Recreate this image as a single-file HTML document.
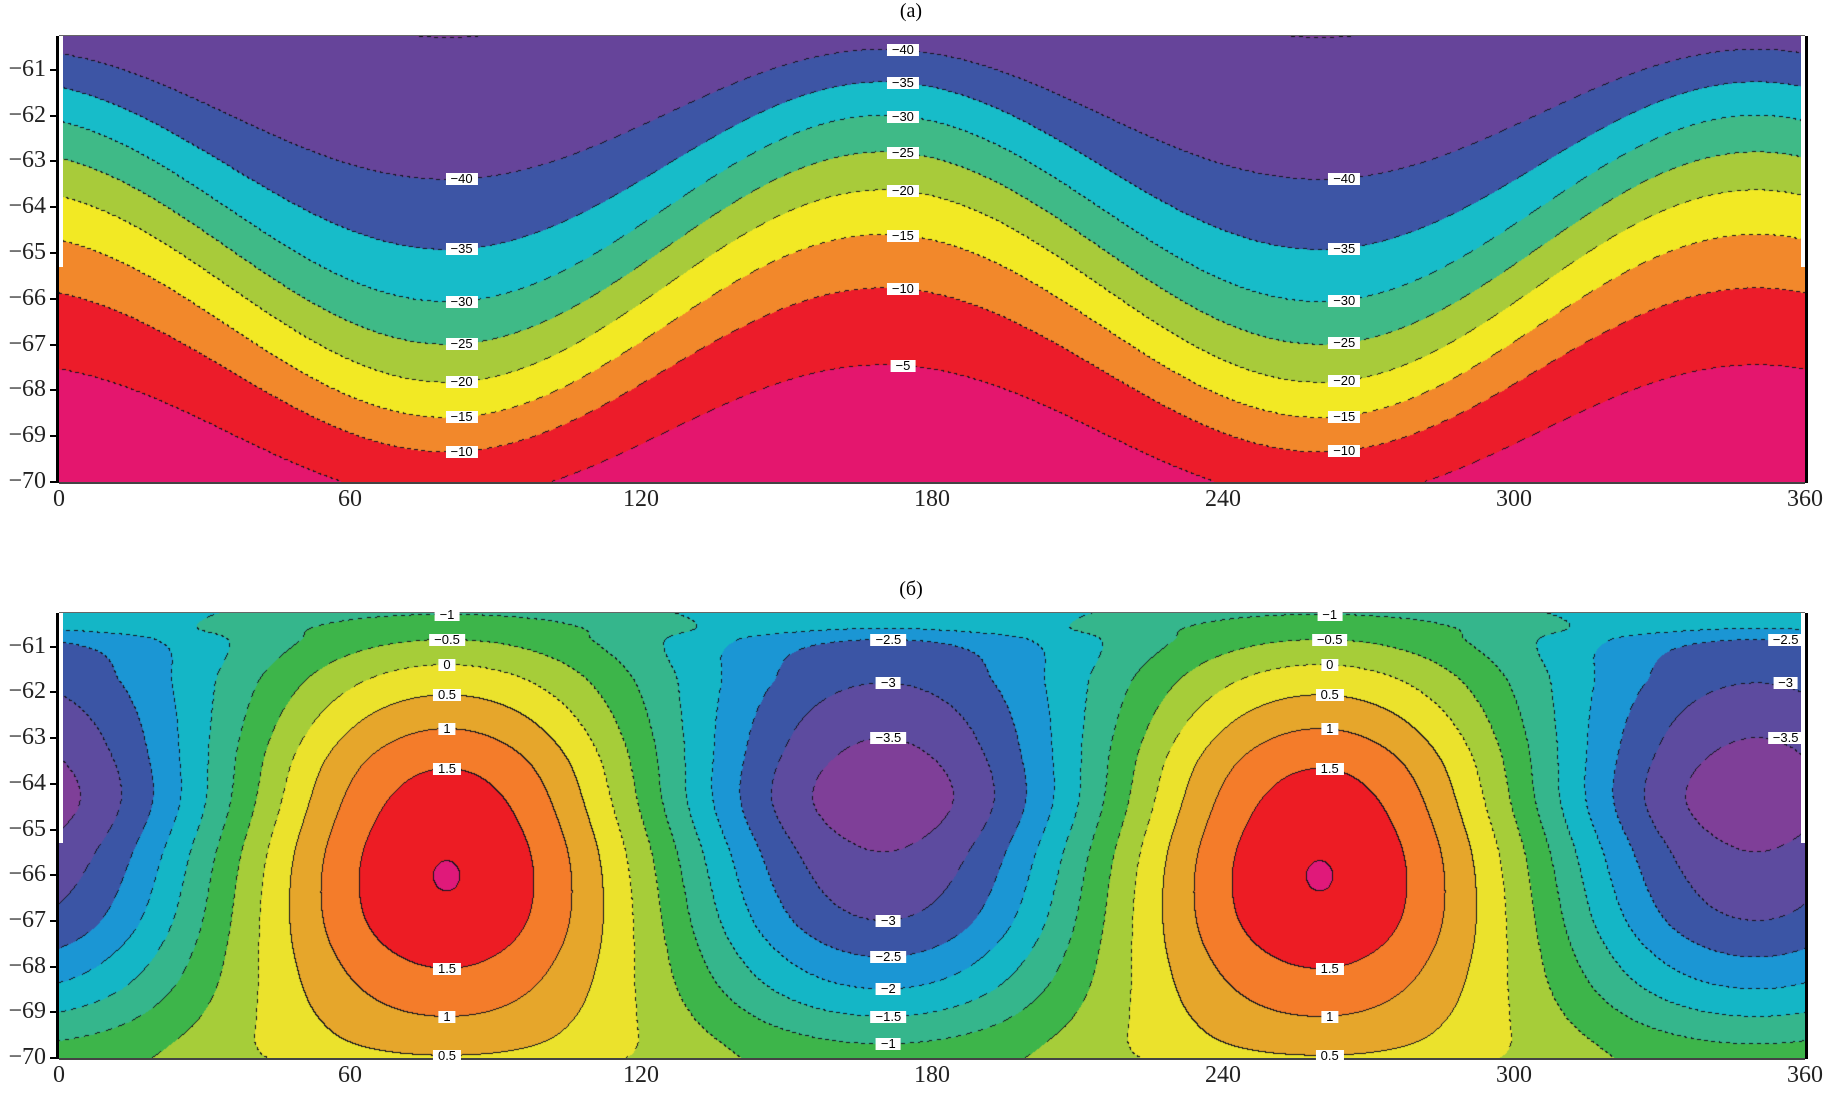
<!DOCTYPE html>
<html><head><meta charset="utf-8">
<style>
body{margin:0;background:#fff;width:1823px;height:1093px;overflow:hidden;position:relative;font-family:"Liberation Serif",serif;}
canvas{position:absolute;}
.t{position:absolute;font-size:24px;color:#222;}
.yt{text-align:right;width:52px;}
.xt{text-align:center;width:60px;}
.lbl{position:absolute;background:#fff;font-family:"Liberation Sans",sans-serif;font-size:13px;line-height:12px;padding:0 5px;color:#000;transform:translate(-50%,-50%);white-space:nowrap;}
.ttl{position:absolute;font-size:20px;width:100px;text-align:center;}
.ax{position:absolute;background:#000;}
</style></head>
<body>
<div class="ttl" style="left:861px;top:0px">(a)</div>
<div class="ttl" style="left:861px;top:578px">(б)</div>
<canvas id="ca" width="1746" height="446" style="left:59px;top:36px"></canvas>
<canvas id="cb" width="1746" height="445" style="left:59px;top:613px"></canvas>
<div id="over"></div>
<script>
// ---- axes ----
const X0=59, X1=1805, LON0=0, LON1=360;
const LATTOP=-60.26, LATBOT=-70;
const PA={top:36,bot:482}, PB={top:613,bot:1058};
const xTicks=[0,60,120,180,240,300,360];
const yTicks=[-61,-62,-63,-64,-65,-66,-67,-68,-69,-70];
function xs(lon){return X0+(lon-LON0)/(LON1-LON0)*(X1-X0);}
function ys(P,lat){return P.top+(LATTOP-lat)/(LATTOP-LATBOT)*(P.bot-P.top);}

// ---- panel (a) data ----
const aLevels=[-45,-40,-35,-30,-25,-20,-15,-10,-5];
const aPeakLat=[-58.0,-60.56,-61.27,-62.0,-62.8,-63.63,-64.6,-65.77,-67.45]; // at lon 170
const aTroughLat=[-60.3,-63.4,-64.93,-66.07,-67.0,-67.83,-68.6,-69.35,-70.4]; // at lon 80
const aColors=["#7a3e98","#66449a","#3d55a5","#17bcc9","#3fba87","#a8cb3a","#f2e924","#f2882b","#ec1c2a","#e4166e"];
const aLabelsMid=[-40,-35,-30,-25,-20,-15,-10,-5];
const aLabelsSide=[-40,-35,-30,-25,-20,-15,-10];

// ---- panel (б) data ----
const bLevels=[-3.5,-3,-2.5,-2,-1.5,-1,-0.5,0,0.5,1,1.5,2];
const bColors=["#7f3f98","#5d4b9f","#3b55a5","#1b96d4","#14b6c6","#35b68c","#3db54a","#a6cd39","#ebe22c","#e6a62b","#f47c2a","#ed1c24","#e0197a"];
const pLat=[-60.26,-60.3,-60.85,-61.4,-62.06,-62.8,-63.67,-65.0,-66.0,-67.0,-68.05,-69.1,-69.95,-70];
const pVal=[-1.05,-1.0,-0.5,0,0.5,1,1.5,1.9,2.012,1.9,1.5,1,0.5,0.45]; // at lon 80 (max)
const qLat=[-60.26,-60.6,-60.85,-61.8,-63.0,-64.3,-65.5,-67.0,-67.8,-68.5,-69.1,-69.7,-70];
const qVal=[-1.9,-2,-2.5,-3,-3.5,-3.85,-3.5,-3,-2.5,-2,-1.5,-1,-0.8]; // at lon 170 (min)
const bLabels=[[80,-60.3,"−1"],[80,-60.85,"−0.5"],[80,-61.4,"0"],[80,-62.06,"0.5"],[80,-62.8,"1"],[80,-63.67,"1.5"],[80,-68.05,"1.5"],[80,-69.1,"1"],[80,-69.95,"0.5"],
[262,-60.3,"−1"],[262,-60.85,"−0.5"],[262,-61.4,"0"],[262,-62.06,"0.5"],[262,-62.8,"1"],[262,-63.67,"1.5"],[262,-68.05,"1.5"],[262,-69.1,"1"],[262,-69.95,"0.5"],
[171,-60.85,"−2.5"],[171,-61.8,"−3"],[171,-63.0,"−3.5"],[171,-67.0,"−3"],[171,-67.8,"−2.5"],[171,-68.5,"−2"],[171,-69.1,"−1.5"],[171,-69.7,"−1"],
[356,-60.85,"−2.5"],[356,-61.8,"−3"],[356,-63.0,"−3.5"]];

// monotone cubic interpolation (lats descending)
function makeInterp(xa,va){
  const n=xa.length,d=[],m=new Array(n);
  for(let i=0;i<n-1;i++)d.push((va[i+1]-va[i])/(xa[i+1]-xa[i]));
  m[0]=d[0];m[n-1]=d[n-2];
  for(let i=1;i<n-1;i++){m[i]=(d[i-1]*d[i]<=0)?0:(d[i-1]+d[i])/2;}
  for(let i=0;i<n-1;i++){if(d[i]===0){m[i]=0;m[i+1]=0;continue;}
    const a=m[i]/d[i],b=m[i+1]/d[i],s=a*a+b*b;if(s>9){const t=3/Math.sqrt(s);m[i]=t*a*d[i];m[i+1]=t*b*d[i];}}
  return x=>{
    if(x>=xa[0])return va[0];
    if(x<=xa[n-1])return va[n-1];
    let i=0;while(i<n-2&&x<xa[i+1])i++;
    const h=xa[i+1]-xa[i],t=(x-xa[i])/h,t2=t*t,t3=t2*t;
    return (2*t3-3*t2+1)*va[i]+(t3-2*t2+t)*h*m[i]+(-2*t3+3*t2)*va[i+1]+(t3-t2)*h*m[i+1];
  };
}
const pF=makeInterp(pLat,pVal), qF=makeInterp(qLat,qVal);
function hex(c){return [parseInt(c.slice(1,3),16),parseInt(c.slice(3,5),16),parseInt(c.slice(5,7),16)];}
function aLineLat(i,lon){const mid=(aPeakLat[i]+aTroughLat[i])/2,amp=(aPeakLat[i]-aTroughLat[i])/2;return mid+amp*Math.cos(2*(lon-170)*Math.PI/180);}

function render(id,P,bandFn,colors,dashFn){
  const cv=document.getElementById(id),ctx=cv.getContext('2d');
  const W=cv.width,H=cv.height,img=ctx.createImageData(W,H);
  const cols=colors.map(hex);
  const band=new Int16Array(W*H);
  const rows=[];for(let y=0;y<H;y++)rows.push(bandFn.row(LATTOP-(y+0.5)/H*(LATTOP-LATBOT)));
  for(let x=0;x<W;x++){const lon=LON0+(x+0.5)/W*(LON1-LON0);
    const pre=bandFn.prep(lon);
    for(let y=0;y<H;y++){const lat=LATTOP-(y+0.5)/H*(LATTOP-LATBOT);band[y*W+x]=bandFn.band(pre,lat,rows[y]);}}
  for(let y=0;y<H;y++)for(let x=0;x<W;x++){
    const k=y*W+x,b=band[k];let c=cols[b];
    let edge=-1;
    if(x+1<W&&band[k+1]!==b)edge=Math.max(b,band[k+1]);
    if(y+1<H&&band[k+W]!==b)edge=Math.max(b,band[k+W]);
    if(edge>=0&&dashFn(edge,x,y))c=[20,20,30];
    const o=k*4;img.data[o]=c[0];img.data[o+1]=c[1];img.data[o+2]=c[2];img.data[o+3]=255;}
  ctx.putImageData(img,0,0);
}
render('ca',PA,{row:lat=>null,prep:lon=>aLevels.map((l,i)=>aLineLat(i,lon)),
  band:(pre,lat)=>{let n=0;for(let i=0;i<pre.length;i++)if(lat<pre[i])n++;return n;}},
  aColors,(e,x,y)=>((x+y)>>2)%2===0);
render('cb',PB,{row:lat=>[pF(lat),qF(lat)],prep:lon=>Math.cos(2*(lon-80)*Math.PI/180),
  band:(c2,lat,r)=>{const p=r[0],q=r[1];const c=(p+q)/2,a=(p-q)/2;const f=c+a*c2;let n=0;for(const l of bLevels)if(f>l)n++;return n;}},
  bColors,(e,x,y)=>bLevels[e-1]>0?true:((x+y)>>2)%2===0);

// ---- overlays ----
const over=document.getElementById('over');
function add(html){over.insertAdjacentHTML('beforeend',html);return over.lastElementChild;}
[PA,PB].forEach((P,pi)=>{
  const nm=pi?'b':'a';
  let el=add(`<div class="ax" style="left:${X0-3}px;top:${P.top}px;width:3px;height:${P.bot-P.top+1}px"></div>`);
  
  
  el=add(`<div class="ax" style="left:${X1}px;top:${P.top}px;width:3px;height:${P.bot-P.top+1}px"></div>`);
  
  
  el=add(`<div class="ax" style="left:${X0}px;top:${P.bot}px;width:${X1-X0}px;height:2px;background:#444"></div>`);
  
  
  el=add(`<div class="ax" style="left:${X0}px;top:${P.top-1}px;width:${X1-X0}px;height:1px;background:#666"></div>`);
  
  
  el=add(`<div style="position:absolute;left:${X0}px;top:${P.top}px;width:4px;height:${ys(P,-65.3)-P.top}px;background:#fff"></div>`);
  
  
  el=add(`<div style="position:absolute;left:${X1-4}px;top:${P.top}px;width:4px;height:${ys(P,-65.3)-P.top}px;background:#fff"></div>`);
  
  
  yTicks.forEach(v=>{const y=ys(P,v);
    el=add(`<div class="ax" style="left:${X0-9}px;top:${y-1}px;width:7px;height:2px"></div>`);
    
    
    el=add(`<div class="t yt" style="left:-6px;top:${y-14}px">−${-v}</div>`);
    
    });
  xTicks.forEach(v=>{const x=xs(v);
    el=add(`<div class="t xt" style="left:${x-30}px;top:${P.bot+4}px">${v}</div>`);
    
    });
});
function lbl(P,lon,lat,txt){const el=add(`<div class="lbl" style="left:${xs(lon)}px;top:${ys(P,lat)}px">${txt}</div>`);
  
  }
aLabelsMid.forEach(v=>{const i=aLevels.indexOf(v);lbl(PA,174,aLineLat(i,174),"−"+(-v));});
aLabelsSide.forEach(v=>{const i=aLevels.indexOf(v);lbl(PA,83,aLineLat(i,83),"−"+(-v));lbl(PA,265,aLineLat(i,265),"−"+(-v));});
bLabels.forEach(l=>lbl(PB,l[0],l[1],l[2]));
</script>
</body></html>
